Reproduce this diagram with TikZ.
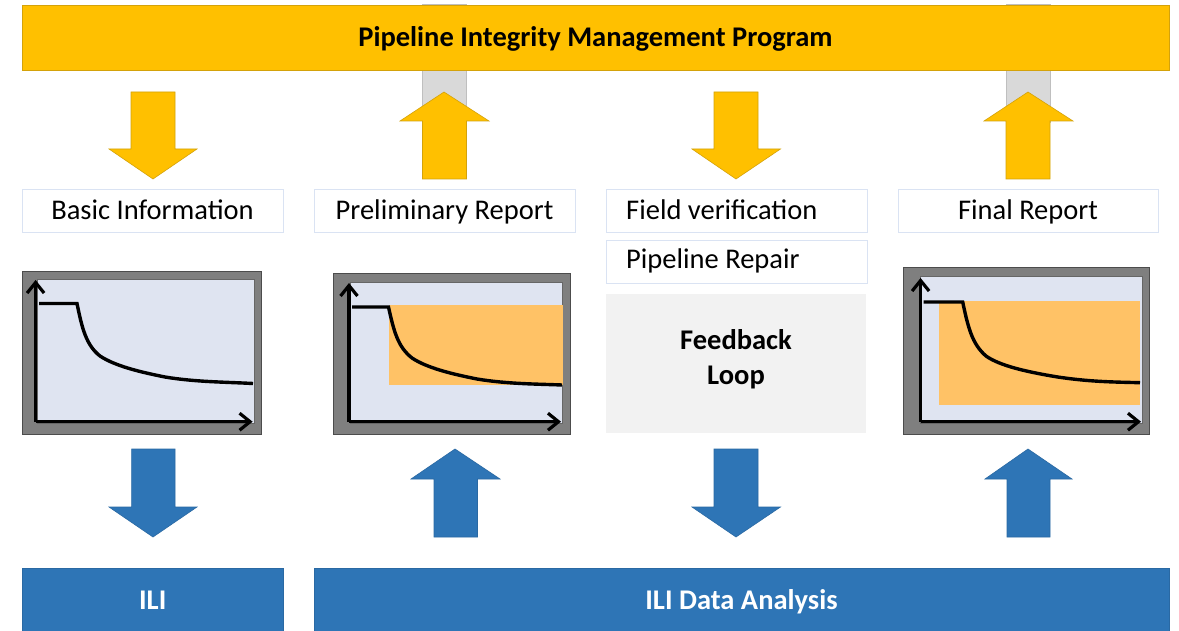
\documentclass[tikz,border=0pt]{standalone}
\usepackage{fontspec}
\setmainfont{Carlito}
\usetikzlibrary{arrows.meta}
\definecolor{ygold}{HTML}{FFC000}
\definecolor{ygoldline}{HTML}{D4A20A}
\definecolor{bblue}{HTML}{2E75B6}
\definecolor{bblueline}{HTML}{2A69A3}
\definecolor{boxline}{HTML}{DAE3F3}
\definecolor{stemgray}{HTML}{D9D9D9}
\definecolor{stemline}{HTML}{BFBFBF}
\definecolor{framegray}{HTML}{7F7F7F}
\definecolor{lav}{HTML}{DFE4F1}
\definecolor{orng}{HTML}{FFC266}
\definecolor{fbgray}{HTML}{F2F2F2}
\tikzset{
  yarrow/.style={fill=ygold,draw=ygoldline,line width=0.6pt},
  barrow/.style={fill=bblue,draw=bblueline,line width=0.6pt},
  stem/.style={fill=stemgray,draw=stemline,line width=0.6pt},
  labelbox/.style={draw=boxline,fill=white,line width=0.8pt},
  lbl/.style={font=\fontsize{28.5}{30}\selectfont,inner sep=0pt,anchor=base},
  boldlbl/.style={font=\fontsize{28.5}{30}\selectfont\bfseries,inner sep=0pt,anchor=base},
  framebox/.style={fill=framegray,draw=black!70,line width=0.6pt},
  plotarea/.style={fill=lav,draw=black!60,line width=0.4pt},
  axis/.style={line width=3.3pt,-{Straight Barb[length=10.5pt,width=17pt,line width=3.2pt]}},
  curve/.style={line width=3.4pt},
}
\begin{document}
\begin{tikzpicture}[x=1pt,y=-1pt]
\path[fill=white,use as bounding box] (0,0) rectangle (1179,631);

% gray stems behind top bar
\path[stem] (422,4) rectangle (466,122);
\path[stem] (1006,4) rectangle (1050,122);

% top bar
\path[fill=ygold,draw=ygoldline,line width=0.8pt] (22,5) rectangle (1169,70);
\node[boldlbl] (pimp) at (595.5,47) {Pipeline Integrity Management Program};

% yellow arrows
\path[yarrow] (131,92) -- (175,92) -- (175,149) -- (197,149) -- (153,179) -- (109,149) -- (131,149) -- cycle;
\path[yarrow] (444,92) -- (489,121) -- (466.5,121) -- (466.5,179) -- (422.5,179) -- (422.5,121) -- (400,121) -- cycle;
\path[yarrow] (714,92) -- (758,92) -- (758,149) -- (780.5,149) -- (736,179) -- (692,149) -- (714,149) -- cycle;
\path[yarrow] (1028,92) -- (1073,121) -- (1050,121) -- (1050,179) -- (1006,179) -- (1006,121) -- (984,121) -- cycle;

% label boxes
\path[labelbox] (22,189) rectangle (283,232);
\node[lbl] (basic) at (152.5,220) {Basic Information};
\path[labelbox] (314,189) rectangle (575,232);
\node[lbl] (prelim) at (444.5,220) {Preliminary Report};
\path[labelbox] (606,189) rectangle (867,232);
\node[lbl,anchor=base west] (field) at (626,220) {Field verification};
\path[labelbox] (898,189) rectangle (1158,232);
\node[lbl] (final) at (1028,220) {Final Report};
\path[labelbox] (606,240) rectangle (867,283);
\node[lbl,anchor=base west] (repair) at (626,268.5) {Pipeline Repair};

% feedback loop
\path[fill=fbgray] (606,294) rectangle (866,433);
\node[boldlbl] (fb1) at (736,349.5) {Feedback};
\node[boldlbl] (fb2) at (736,384.5) {Loop};

% chart 1
\path[framebox] (22,271) rectangle (261,434);
\path[plotarea] (37,279) rectangle (254,423);
\draw[curve] (39,303.5) -- (77,303.5) .. controls (82,328) and (86,345) .. (100,356)
  .. controls (115,366) and (140,372) .. (165,377) .. controls (195,382) and (225,382) .. (253,383.5);
\draw[axis] (35.6,421.7) -- (35.6,280);
\draw[axis] (35.6,421.7) -- (252.6,421.7);

% chart 2
\path[framebox] (333,273) rectangle (570,434);
\path[plotarea] (350,282) rectangle (562.6,423);
\path[fill=orng] (389,305) rectangle (562.6,385);
\draw[curve] (352,307) -- (388.5,307) .. controls (394,332) and (398,347) .. (412,358)
  .. controls (427,368) and (452,374) .. (477,379) .. controls (507,384) and (537,384) .. (562,385);
\draw[axis] (349,421.7) -- (349,283);
\draw[axis] (349,421.7) -- (561,421.7);

% chart 3
\path[framebox] (903.7,267) rectangle (1149.7,434);
\path[plotarea] (920,276) rectangle (1142,422.7);
\path[fill=orng] (939,301) rectangle (1139.6,404.7);
\draw[curve] (923.6,302) -- (962.7,302) .. controls (968,327) and (972,344) .. (986,356)
  .. controls (1000,366) and (1028,372) .. (1055.8,376.7) .. controls (1090,382) and (1115,382) .. (1140,382.7);
\draw[axis] (920.6,421.7) -- (920.6,278);
\draw[axis] (920.6,421.7) -- (1141,421.7);

% blue arrows
\path[barrow] (131.6,449) -- (175,449) -- (175,507) -- (197,507) -- (153,537) -- (109,507) -- (131.6,507) -- cycle;
\path[barrow] (455,449) -- (500,479) -- (477.5,479) -- (477.5,537) -- (434,537) -- (434,479) -- (411,479) -- cycle;
\path[barrow] (714,449) -- (758,449) -- (758,507) -- (780.5,507) -- (736,537) -- (692,507) -- (714,507) -- cycle;
\path[barrow] (1028,449) -- (1072,479) -- (1050,479) -- (1050,537) -- (1007,537) -- (1007,479) -- (985,479) -- cycle;

% bottom bars
\path[fill=bblue,draw=bblueline,line width=0.6pt] (22.5,568) rectangle (283,635);
\node[boldlbl,text=white] (ili) at (152.75,609.5) {ILI};
\path[fill=bblue,draw=bblueline,line width=0.6pt] (314,568) rectangle (1169,635);
\node[boldlbl,text=white] (ilida) at (741.5,609.5) {ILI Data Analysis};
\end{tikzpicture}
\end{document}
